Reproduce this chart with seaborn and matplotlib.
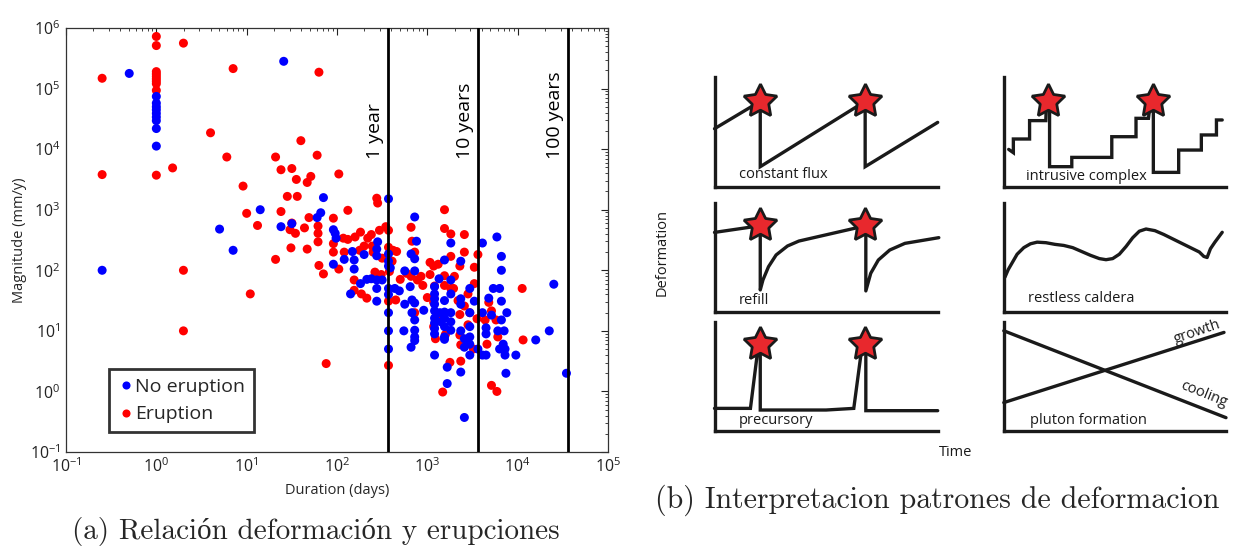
import numpy as np
import pandas as pd
import matplotlib
matplotlib.use("Agg")
import matplotlib.pyplot as plt
import seaborn as sns

# ---------------------------------------------------------------
# Panel (a): duration vs. magnitude of deformation episodes
# values stored as log10(days) and log10(mm/y)
# ---------------------------------------------------------------
eruption_log_duration = [
    -0.60, -0.60,
    0.00, 0.00, 0.00, 0.00, 0.00, 0.00, 0.00, 0.00, 0.00, 0.00,
    0.30, 0.18, 0.30, 0.30,
    0.60, 0.85, 0.78, 0.96, 1.00, 1.12, 1.04,
    1.32, 1.38, 1.50, 1.55, 1.45, 1.56, 1.38, 1.50, 1.48, 1.54, 1.60, 1.67, 1.71, 1.49, 1.64, 1.67, 1.69, 1.32,
    1.80, 1.78, 1.79, 1.79, 1.79, 1.80, 1.85, 2.02, 1.96, 1.96, 1.96, 2.12, 2.07, 2.12, 2.08, 2.02,
    2.26, 2.25, 2.19, 2.19, 2.27, 2.33, 2.38, 2.34, 2.39, 2.40, 2.44, 2.45, 2.47, 2.54, 2.57, 2.57, 2.61,
    2.58, 2.42, 2.49, 2.57, 2.57, 2.62, 2.66, 2.65,
    2.77, 2.82, 2.83, 2.86, 2.82, 2.89, 2.93, 2.86, 1.88,
    3.19, 3.19, 3.26, 3.26, 3.41, 3.41, 3.52, 3.56, 3.03, 3.07, 3.03, 3.08, 3.19, 3.19, 3.36, 3.26, 3.29,
    3.34, 3.45, 3.52, 3.41, 3.47, 3.07, 3.07, 3.09, 3.15, 3.20, 3.36, 3.37, 3.37, 3.25, 3.17, 3.51, 3.71,
    3.77, 3.66, 3.68, 3.71, 3.76, 3.78, 4.05, 4.06, 3.64, 3.36,
    2.95, 3.00, 2.70, 3.12, 3.30, 3.45, 3.55, 2.50, 2.30, 2.20,
]
eruption_log_magnitude = [
    5.17, 3.58,
    5.86, 5.71, 5.28, 5.24, 5.20, 5.16, 5.12, 5.08, 4.97, 3.57,
    5.75, 3.69, 2.00, 1.00,
    4.27, 5.33, 3.87, 3.39, 2.94, 2.74, 1.61,
    3.87, 3.66, 3.68, 3.50, 3.22, 3.22, 2.97, 2.78, 2.67, 2.61, 4.14, 3.45, 3.55, 2.37, 2.70, 2.35, 2.87, 2.18,
    5.27, 3.90, 2.73, 2.61, 2.47, 2.08, 1.94, 3.59, 2.86, 2.44, 2.30, 2.99, 2.53, 2.51, 2.30, 2.02,
    2.63, 2.33, 1.84, 1.67, 1.61, 1.54, 2.59, 2.53, 2.40, 2.30, 3.19, 3.11, 2.66, 2.72, 2.66, 2.38, 2.15,
    1.98, 1.97, 1.93, 1.49, 0.43, 2.33, 2.31, 1.51,
    1.95, 2.71, 2.48, 2.30, 1.90, 1.84, 1.90, 1.30, 0.46,
    3.00, 2.69, 2.60, 2.23, 2.59, 2.30, 2.05, 2.26, 2.13, 2.07, 1.93, 1.74, 1.91, 1.75, 2.07, 1.70, 1.70,
    1.50, 1.61, 1.78, 1.41, 1.30, 1.47, 1.07, 0.87, 1.27, 0.94, 0.93, 0.77, 0.50, 0.48, -0.01, 0.70, 0.10,
    0.00, 0.78, 1.47, 1.33, 1.18, 0.90, 1.70, 0.85, 1.18, 1.27,
    1.75, 1.55, 1.85, 2.10, 1.90, 1.10, 1.20, 2.20, 2.40, 2.55,
]

no_eruption_log_duration = [
    -0.60, -0.30,
    0.00, 0.00, 0.00, 0.00, 0.00, 0.00, 0.00, 0.00, 0.00,
    1.41, 0.70, 0.85, 1.15, 1.38, 1.50, 1.78, 1.82, 1.85, 1.96, 1.98, 1.99, 1.96, 2.08, 2.17, 2.19, 2.19,
    2.15, 2.26, 2.30, 2.33,
    2.45, 2.44, 2.44, 2.44, 2.44, 2.44, 2.38, 2.50,
    2.57, 2.57, 2.57, 2.57, 2.57, 2.57, 2.57, 2.57, 2.57, 2.59, 2.64, 2.69, 2.75, 2.75, 2.74, 2.81, 2.82,
    2.86, 2.88, 2.86, 2.86, 2.83, 2.86, 2.83, 2.86, 2.86, 2.86, 2.86, 2.82, 2.96,
    3.08, 3.08, 3.08, 3.08, 3.08, 3.08, 3.08, 3.08, 3.08, 3.08, 3.13, 3.14, 3.15, 3.19, 3.19, 3.19, 3.19,
    3.19, 3.19, 3.19, 3.26, 3.26, 3.26, 3.26, 3.26, 3.26, 3.22, 3.22, 3.37, 3.37, 3.37, 3.37, 3.37, 3.41,
    3.41, 3.41, 3.47, 3.47, 3.47, 3.47, 3.47, 3.47, 3.52, 3.56, 3.61, 3.61, 3.61, 3.65, 3.65, 3.65, 3.68,
    3.71, 3.73, 3.77, 3.80, 3.82, 3.82, 3.82, 3.82, 3.78, 3.85, 3.80, 3.84, 3.86, 3.88, 3.87, 3.86, 3.98,
    4.20, 4.35, 4.40, 4.54,
]
no_eruption_log_magnitude = [
    2.00, 5.25,
    4.87, 4.76, 4.70, 4.65, 4.59, 4.53, 4.47, 4.34, 4.05,
    5.45, 2.68, 2.33, 3.00, 2.72, 2.77, 2.87, 2.95, 3.20, 2.67, 2.61, 2.53, 2.10, 2.18, 2.31, 2.17, 2.02,
    1.61, 1.78, 2.26, 1.85,
    2.47, 2.35, 2.24, 1.84, 1.70, 1.49, 1.86, 1.84,
    3.18, 2.27, 2.15, 2.07, 1.70, 1.60, 1.30, 1.00, 0.70, 2.04, 1.70, 1.66, 1.99, 1.44, 1.00, 1.73, 2.27,
    2.88, 2.48, 2.19, 1.99, 1.51, 1.46, 1.30, 1.18, 1.01, 0.90, 0.84, 0.73, 1.34,
    1.73, 1.61, 1.53, 1.44, 1.33, 1.21, 1.13, 1.04, 0.95, 0.60, 1.86, 1.30, 1.15, 2.17, 1.50, 1.31, 1.21,
    1.07, 0.90, 0.86, 2.45, 1.84, 1.61, 1.30, 1.15, 1.01, 0.40, 0.13, 2.15, 1.53, 1.44, 1.00, 0.32, -0.43,
    0.87, 0.73, 1.70, 1.30, 1.07, 0.90, 0.78, 0.60, 1.49, 0.70, 2.45, 1.30, 0.60, 0.60, 1.05, 0.95, 1.54,
    1.26, 1.70, 2.55, 1.70, 2.23, 2.00, 1.49, 1.18, 1.00, 1.00, 0.70, 0.78, 0.60, 1.30, 0.30, 0.70, 0.60,
    0.85, 1.00, 1.77, 0.30,
]

group_labels = ["No eruption", "Eruption"]
group_colors = {"No eruption": "#0000ff", "Eruption": "#ff0000"}

reference_days = [365, 3650, 36500]
reference_labels = ["1 year", "10 years", "100 years"]

# ---------------------------------------------------------------
# Panel (b): schematic deformation patterns (normalised 0-1 units)
# ---------------------------------------------------------------
flux_x = [0.0, 0.205, 0.205, 0.675, 0.675, 1.0]
flux_y = [0.53, 0.78, 0.183, 0.78, 0.183, 0.588]
flux_stars_x = [0.205, 0.675]
flux_stars_y = [0.787, 0.787]

intrusive_x = [0.022, 0.043, 0.043, 0.116, 0.116, 0.189, 0.192, 0.206, 0.206, 0.306, 0.306, 0.486, 0.486,
               0.595, 0.595, 0.651, 0.660, 0.673, 0.673, 0.787, 0.787, 0.889, 0.889, 0.957, 0.957, 0.983]
intrusive_y = [0.341, 0.311, 0.436, 0.436, 0.604, 0.604, 0.777, 0.777, 0.183, 0.183, 0.268, 0.268, 0.457,
               0.457, 0.625, 0.625, 0.777, 0.777, 0.131, 0.131, 0.335, 0.335, 0.473, 0.473, 0.610, 0.610]
intrusive_stars_x = [0.200, 0.673]
intrusive_stars_y = [0.787, 0.787]

refill_x = [0.0, 0.205, 0.205, 0.217, 0.242, 0.276, 0.327, 0.378, 0.678, 0.678, 0.700, 0.734, 0.785,
            0.853, 1.005]
refill_y = [0.729, 0.790, 0.204, 0.295, 0.416, 0.523, 0.605, 0.650, 0.790, 0.195, 0.356, 0.477, 0.568,
            0.629, 0.681]
refill_stars_x = [0.205, 0.675]
refill_stars_y = [0.796, 0.796]

caldera_x = [0.005, 0.02, 0.04, 0.06, 0.09, 0.12, 0.15, 0.19, 0.23, 0.27, 0.31, 0.35, 0.39, 0.43, 0.46,
             0.49, 0.52, 0.55, 0.58, 0.61, 0.64, 0.68, 0.72, 0.76, 0.80, 0.84, 0.88, 0.90, 0.915, 0.93,
             0.95, 0.983]
caldera_y = [0.32, 0.39, 0.46, 0.53, 0.59, 0.625, 0.64, 0.635, 0.62, 0.61, 0.59, 0.555, 0.52, 0.49, 0.48,
             0.49, 0.53, 0.60, 0.68, 0.74, 0.76, 0.745, 0.71, 0.67, 0.63, 0.59, 0.55, 0.51, 0.50, 0.58,
             0.64, 0.73]

precursor_x = [0.0, 0.161, 0.195, 0.205, 0.205, 0.500, 0.624, 0.660, 0.678, 0.678, 1.0]
precursor_y = [0.207, 0.207, 0.760, 0.760, 0.192, 0.192, 0.207, 0.760, 0.760, 0.186, 0.186]
precursor_stars_x = [0.205, 0.675]
precursor_stars_y = [0.796, 0.796]

growth_x = [0.0, 0.991]
growth_y = [0.26, 0.902]
cooling_x = [0.0, 1.0]
cooling_y = [0.917, 0.122]

# ---------------------------------------------------------------
sns.set_theme(style="white")
plt.rcParams["font.family"] = ["Open Sans", "DejaVu Sans"]
plt.rcParams["axes.unicode_minus"] = True
# tick labels (10^n) drawn in a Helvetica-like face
plt.rcParams["mathtext.fontset"] = "custom"
plt.rcParams["mathtext.rm"] = "Liberation Sans"
plt.rcParams["mathtext.it"] = "Liberation Sans"
plt.rcParams["mathtext.bf"] = "Liberation Sans:bold"
plt.rcParams["mathtext.sf"] = "Liberation Sans"

W, H = 1233, 547
fig = plt.figure(figsize=(W / 100, H / 100), dpi=100)


def px_rect(x0, y_top, x1, y_bottom):
    return [x0 / W, 1 - y_bottom / H, (x1 - x0) / W, (y_bottom - y_top) / H]


# ---------------- panel (a) ----------------
ax = fig.add_axes(px_rect(66, 28, 608, 452))

df = pd.DataFrame({
    "Duration": np.concatenate([10.0 ** np.array(eruption_log_duration),
                                10.0 ** np.array(no_eruption_log_duration)]),
    "Magnitude": np.concatenate([10.0 ** np.array(eruption_log_magnitude),
                                 10.0 ** np.array(no_eruption_log_magnitude)]),
    "Group": ["Eruption"] * len(eruption_log_duration) + ["No eruption"] * len(no_eruption_log_duration),
})

sns.scatterplot(data=df, x="Duration", y="Magnitude", hue="Group", hue_order=group_labels,
                palette=group_colors, s=42, linewidth=0, alpha=1, ax=ax, zorder=3)

ax.set_xscale("log")
ax.set_yscale("log")
ax.set_xlim(1e-1, 1e5)
ax.set_ylim(1e-1, 1e6)

for d, lab in zip(reference_days, reference_labels):
    ax.axvline(d, color="black", lw=2.0, zorder=4)
    ax.annotate(lab, xy=(d, 7e3), xytext=(-3, 0), textcoords="offset points",
                rotation=90, ha="right", va="bottom", fontsize=14, color="black")

ax.tick_params(which="both", direction="in", top=True, right=True, labelsize=11.5, colors="#222222")
ax.tick_params(which="major", length=5, width=0.8, pad=4)
ax.tick_params(which="minor", length=2.5, width=0.6)
for sp in ax.spines.values():
    sp.set_linewidth(0.9)
    sp.set_color("#333333")

ax.set_xlabel("Duration (days)", fontsize=10.5)
ax.set_ylabel("Magnitude (mm/y)", fontsize=10.5)
ax.xaxis.set_label_coords(0.5, -0.072)
ax.yaxis.set_label_coords(-0.072, 0.5)

sns.move_legend(ax, loc="upper left", bbox_to_anchor=(0.079, 0.196), title=None, frameon=True,
                fontsize=14, handletextpad=0.0, handlelength=0.9, borderpad=0.45,
                labelspacing=0.5, fancybox=False, markerscale=0.9, borderaxespad=0)
leg = ax.get_legend()
leg.get_frame().set_edgecolor("black")
leg.get_frame().set_linewidth(2.0)
leg.set_zorder(6)

fig.text(316 / W, 1 - 532 / H, "(a) Relación deformación y erupciones",
         family=["cmr10", "Liberation Serif"], fontsize=21, ha="center", va="center")

# ---------------- panel (b) ----------------
LINE_W = 2.4
INK = "#1a1a1a"
STAR_RED = "#e8282d"


def schematic_axes(x0, y_top, x1, y_bottom):
    a = fig.add_axes(px_rect(x0, y_top, x1, y_bottom))
    a.set_xlim(0, 1)
    a.set_ylim(0, 1)
    a.set_xticks([])
    a.set_yticks([])
    for side in ("top", "right"):
        a.spines[side].set_visible(False)
    for side in ("left", "bottom"):
        a.spines[side].set_linewidth(LINE_W)
        a.spines[side].set_color(INK)
    a.patch.set_alpha(0)
    return a


def stars(a, xs, ys):
    a.plot(xs, ys, linestyle="none", marker=(5, 1, 0), markersize=25, markerfacecolor=STAR_RED,
           markeredgecolor=INK, markeredgewidth=2.0, clip_on=False, zorder=5)


LX0, LX1 = 714.5, 937.7
RX0, RX1 = 1003.8, 1226
rows = [(77.3, 186.7), (202.7, 312.3), (321.7, 431.0)]
label_kw = dict(fontsize=10.5, ha="left", va="center", color=INK)

a1 = schematic_axes(LX0, rows[0][0], LX1, rows[0][1])
a1.plot(flux_x, flux_y, color=INK, lw=LINE_W, clip_on=False, solid_joinstyle="miter")
stars(a1, flux_stars_x, flux_stars_y)
a1.text(0.11, 0.107, "constant flux", transform=a1.transAxes, **label_kw)

a2 = schematic_axes(RX0, rows[0][0], RX1, rows[0][1])
a2.plot(intrusive_x, intrusive_y, color=INK, lw=LINE_W, clip_on=False, solid_joinstyle="miter")
stars(a2, intrusive_stars_x, intrusive_stars_y)
a2.text(0.102, 0.091, "intrusive complex", transform=a2.transAxes, **label_kw)

a3 = schematic_axes(LX0, rows[1][0], LX1, rows[1][1])
a3.plot(refill_x, refill_y, color=INK, lw=LINE_W, clip_on=False, solid_joinstyle="round")
stars(a3, refill_stars_x, refill_stars_y)
a3.text(0.11, 0.112, "refill", transform=a3.transAxes, **label_kw)

a4 = schematic_axes(RX0, rows[1][0], RX1, rows[1][1])
a4.plot(caldera_x, caldera_y, color=INK, lw=LINE_W, clip_on=False, solid_joinstyle="round")
a4.text(0.107, 0.122, "restless caldera", transform=a4.transAxes, **label_kw)

a5 = schematic_axes(LX0, rows[2][0], LX1, rows[2][1])
a5.plot(precursor_x, precursor_y, color=INK, lw=LINE_W, clip_on=False, solid_joinstyle="miter")
stars(a5, precursor_stars_x, precursor_stars_y)
a5.text(0.11, 0.10, "precursory", transform=a5.transAxes, **label_kw)

a6 = schematic_axes(RX0, rows[2][0], RX1, rows[2][1])
a6.plot(growth_x, growth_y, color=INK, lw=LINE_W, clip_on=False)
a6.plot(cooling_x, cooling_y, color=INK, lw=LINE_W, clip_on=False)
a6.text(0.119, 0.10, "pluton formation", transform=a6.transAxes, **label_kw)
a6.text(0.87, 0.91, "growth", transform=a6.transAxes, fontsize=10.5, rotation=19,
        ha="center", va="center", rotation_mode="anchor", color=INK)
a6.text(0.90, 0.34, "cooling", transform=a6.transAxes, fontsize=10.5, rotation=-22,
        ha="center", va="center", rotation_mode="anchor", color=INK)

fig.text(662 / W, 1 - 253 / H, "Deformation", rotation=90, fontsize=10.5, ha="center", va="center",
         color=INK)
fig.text(956 / W, 1 - 453 / H, "Time", fontsize=10.5, ha="center", va="center", color=INK)

fig.text(937 / W, 1 - 500 / H, "(b) Interpretacion patrones de deformacion",
         family=["cmr10", "Liberation Serif"], fontsize=21.5, ha="center", va="center")

fig.savefig("out.png", dpi=100)
